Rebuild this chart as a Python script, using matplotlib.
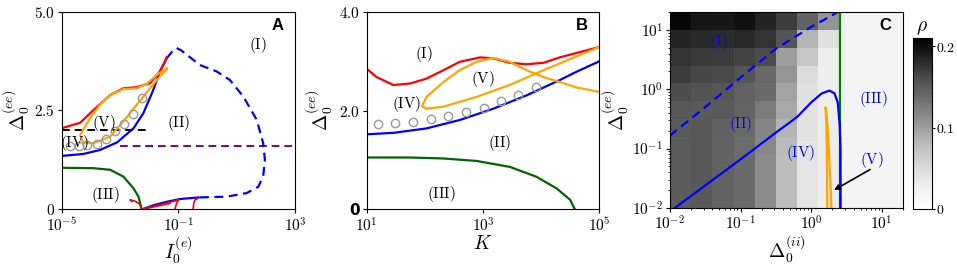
import numpy as np
import matplotlib
matplotlib.use("Agg")
import matplotlib.pyplot as plt

plt.rcParams["mathtext.fontset"] = "cm"
plt.rcParams["font.family"] = ["DejaVu Sans"]

# ---- panel A : Delta_0^(ee) vs I_0^(e) ----
a_blue_up_x = [1e-5, 5.5e-5, 2.04e-4, 7.8e-4, 2.9e-3, 6.3e-3, 0.0138, 0.0234, 0.0398]
a_blue_up_y = [1.35, 1.40, 1.50, 1.69, 2.05, 2.43, 3.02, 3.49, 3.82]
a_blue_dash_x = [0.0398, 0.063, 0.087, 0.126, 0.195, 0.55, 2.04, 5.9, 17, 49, 81, 93, 81, 55, 21.9, 4.57, 0.5]
a_blue_dash_y = [3.82, 4.0, 4.08, 4.02, 3.91, 3.65, 3.49, 3.27, 2.85, 2.26, 1.67, 1.25, 0.83, 0.57, 0.41, 0.32, 0.30]
a_blue_low_x = [0.5, 0.115, 0.04, 0.0138, 0.0058]
a_blue_low_y = [0.30, 0.26, 0.19, 0.10, 0.0]
a_red_x = [1e-5, 4.3e-5, 1.23e-4, 4.6e-4, 1.29e-3, 3.7e-3, 0.0107, 0.0234, 0.0347, 0.0398]
a_red_y = [2.05, 2.19, 2.51, 2.89, 3.06, 3.09, 3.19, 3.49, 3.74, 3.85]
a_orange_x = [0.0398, 0.0182, 8.1e-3, 3.7e-3, 1.29e-3, 4.6e-4, 2.04e-4, 9.3e-5, 4.3e-5,
              5.5e-5, 1.23e-4, 4.6e-4, 1.7e-3, 6.3e-3, 0.0182, 0.0398]
a_orange_y = [3.57, 3.40, 3.17, 3.06, 3.04, 2.89, 2.64, 2.30, 1.88,
              1.69, 1.67, 1.84, 2.33, 2.85, 3.27, 3.54]
a_green_x = [1e-5, 1.23e-4, 4.6e-4, 1.29e-3, 2.9e-3, 4.3e-3, 5.5e-3]
a_green_y = [1.05, 1.04, 1.0, 0.83, 0.53, 0.32, 0.0]
a_red_bits = [
    ([2.5e-3, 2.2e-3, 3.2e-3, 4.6e-3, 5.8e-3], [0.20, 0.24, 0.21, 0.14, 0.0]),
    ([5.8e-3, 0.051], [0.0, 0.15]),
    ([5.8e-3, 0.10], [0.0, 0.235]),
    ([0.076, 0.087, 0.10], [0.0, 0.15, 0.235]),
    ([0.32, 0.34, 0.37, 0.45], [0.0, 0.17, 0.235, 0.27]),
]
a_circ_x = [1.95e-5, 3.9e-5, 7.6e-5, 1.58e-4, 3.3e-4, 6.8e-4, 1.38e-3, 2.7e-3, 5.5e-3]
a_circ_y = [1.59, 1.59, 1.62, 1.65, 1.77, 1.97, 2.16, 2.41, 2.81]
a_black_x = [1e-5, 0.0107]
a_black_y = [2.0, 2.0]
a_purple_x = [1e-3, 1e3]
a_purple_y = [1.59, 1.59]
a_labels = [("(I)", 55, 4.16), ("(II)", 0.1, 2.18), ("(III)", 3.1e-4, 0.36),
            ("(IV)", 2.9e-5, 1.67), ("(V)", 2.8e-4, 2.18)]

# ---- panel B : Delta_0^(ee) vs K ----
b_red_x = [10, 14.8, 28.8, 56, 107, 209, 398, 891, 1510, 2880, 5620, 11000, 20900, 40700, 1e5]
b_red_y = [2.85, 2.68, 2.52, 2.55, 2.65, 2.82, 2.99, 3.08, 3.06, 2.97, 2.94, 2.97, 3.08, 3.17, 3.29]
b_blue_x = [10, 28.8, 107, 398, 1510, 5620, 20900, 40700, 1e5]
b_blue_y = [1.52, 1.55, 1.64, 1.81, 2.04, 2.31, 2.62, 2.79, 3.0]
b_green_x = [10, 56, 209, 776, 2880, 8300, 18600, 31600, 38000]
b_green_y = [1.05, 1.05, 1.03, 0.98, 0.86, 0.66, 0.42, 0.19, 0.0]
b_orange_x = [1e5, 40700, 20900, 11000, 5620, 2880, 1510, 776, 398, 209, 107, 89,
              107, 209, 776, 2880, 11000, 40700, 1e5]
b_orange_y = [2.38, 2.47, 2.58, 2.68, 2.82, 2.99, 3.07, 2.99, 2.82, 2.58, 2.28, 2.09,
              2.04, 2.08, 2.28, 2.52, 2.82, 3.10, 3.29]
b_circ_x = [15.5, 31, 62, 126, 251, 501, 1020, 2000, 4070, 8130]
b_circ_y = [1.72, 1.74, 1.77, 1.83, 1.90, 1.98, 2.06, 2.19, 2.31, 2.47]
b_labels = [("(I)", 98, 3.14), ("(V)", 980, 2.64), ("(IV)", 49, 2.13),
            ("(II)", 1950, 1.34), ("(III)", 195, 0.32)]

# ---- panel C : heatmap of rho over (Delta_0^(ii), Delta_0^(ee)) ----
c_edges = [0.01, 0.02, 0.0398, 0.0794, 0.158, 0.316, 0.631, 1.26, 2.51, 5.01, 10.0, 20.0]
c_rho = np.array([
    [0.150, 0.152, 0.145, 0.138, 0.113, 0.078, 0.040, 0.030, 0.020, 0.020, 0.020],
    [0.150, 0.152, 0.145, 0.138, 0.113, 0.078, 0.040, 0.030, 0.020, 0.020, 0.020],
    [0.150, 0.152, 0.145, 0.138, 0.113, 0.078, 0.040, 0.030, 0.020, 0.020, 0.020],
    [0.150, 0.152, 0.145, 0.136, 0.115, 0.080, 0.040, 0.030, 0.020, 0.020, 0.020],
    [0.151, 0.152, 0.146, 0.138, 0.118, 0.085, 0.042, 0.030, 0.020, 0.020, 0.020],
    [0.152, 0.151, 0.151, 0.143, 0.125, 0.093, 0.044, 0.028, 0.020, 0.020, 0.020],
    [0.160, 0.156, 0.154, 0.145, 0.138, 0.097, 0.045, 0.028, 0.020, 0.020, 0.020],
    [0.170, 0.164, 0.162, 0.155, 0.140, 0.105, 0.050, 0.030, 0.020, 0.020, 0.020],
    [0.175, 0.172, 0.170, 0.166, 0.160, 0.100, 0.070, 0.030, 0.020, 0.020, 0.020],
    [0.184, 0.182, 0.180, 0.181, 0.175, 0.155, 0.085, 0.045, 0.020, 0.020, 0.020],
    [0.205, 0.195, 0.193, 0.197, 0.185, 0.170, 0.145, 0.105, 0.020, 0.020, 0.020],
])
c_dash_x = [0.01, 0.0316, 0.1, 0.316, 1.0, 2.4]
c_dash_y = [0.166, 0.50, 1.58, 4.8, 11.2, 20]
c_blue_x = [0.0117, 0.0316, 0.1, 0.316, 0.63, 1.0, 1.41, 1.82, 2.14, 2.38, 2.54, 2.6, 2.61]
c_blue_y = [0.01, 0.024, 0.066, 0.186, 0.34, 0.60, 0.85, 0.95, 0.85, 0.60, 0.25, 0.1, 0.01]
c_green_x = [2.57, 2.57]
c_green_y = [0.01, 20]
c_orange_x = [1.69, 1.68, 1.67, 1.64, 1.60, 1.62, 1.70, 1.78, 1.86, 1.93]
c_orange_y = [0.01, 0.032, 0.1, 0.25, 0.5, 0.45, 0.25, 0.1, 0.032, 0.01]
c_labels = [("(I)", 0.049, 6.3), ("(II)", 0.1, 0.26), ("(IV)", 0.72, 0.083),
            ("(III)", 7.6, 0.68), ("(V)", 7.2, 0.065)]

W, H = 957, 266
fig = plt.figure(figsize=(W / 100, H / 100), dpi=100)


def px_axes(left, top, right, bottom):
    return fig.add_axes([left / W, 1 - bottom / H, (right - left) / W, (bottom - top) / H])


def region_label(ax, txt, x, y, color="black"):
    ax.text(x, y, r"$\mathrm{%s}$" % txt, ha="center", va="center", fontsize=11, color=color)


def panel_letter(ax, letter):
    ax.text(0.95, 0.93, letter, transform=ax.transAxes, ha="right", va="center",
            fontsize=12, fontweight="bold", family=["Liberation Sans", "DejaVu Sans"])


lw = 1.6
dash = (0, (4, 2.5))

# Panel A
axA = px_axes(61.7, 11.7, 295, 209.3)
axA.set_xscale("log")
axA.plot(a_purple_x, a_purple_y, color="purple", ls=dash, lw=1.4)
axA.plot(a_black_x, a_black_y, color="black", ls=dash, lw=1.4)
axA.plot(a_green_x, a_green_y, color="darkgreen", lw=lw)
axA.plot(a_blue_up_x, a_blue_up_y, color="blue", lw=lw)
axA.plot(a_blue_dash_x, a_blue_dash_y, color="blue", lw=lw, ls=dash)
axA.plot(a_blue_low_x, a_blue_low_y, color="blue", lw=lw)
for bx, by in a_red_bits:
    axA.plot(bx, by, color="red", lw=1.2)
axA.plot(a_red_x, a_red_y, color="red", lw=lw)
axA.plot(a_orange_x, a_orange_y, color="orange", lw=lw)
axA.plot(a_circ_x, a_circ_y, ls="none", marker="o", ms=6, mfc="none", mec="#999999", mew=1)
for t, x, y in a_labels:
    region_label(axA, t, x, y)
axA.set_xlim(1e-5, 1e3)
axA.set_ylim(0, 5)
axA.set_xticks([1e-5, 1e-1, 1e3])
axA.set_xticklabels([r"$10^{-5}$", r"$10^{-1}$", r"$10^{3}$"])
axA.xaxis.set_minor_locator(matplotlib.ticker.NullLocator())
axA.set_yticks([0, 2.5, 5.0])
axA.set_yticklabels([r"$0$", r"$2.5$", r"$5.0$"])
axA.set_xlabel(r"$I_0^{(e)}$", fontsize=14, labelpad=0)
axA.set_ylabel(r"$\Delta_0^{(ee)}$", fontsize=14, labelpad=1)
panel_letter(axA, "A")

# Panel B
axB = px_axes(366.7, 12, 599.3, 209.3)
axB.set_xscale("log")
axB.plot(b_green_x, b_green_y, color="darkgreen", lw=lw)
axB.plot(b_blue_x, b_blue_y, color="blue", lw=lw)
axB.plot(b_red_x, b_red_y, color="red", lw=lw)
axB.plot(b_orange_x, b_orange_y, color="orange", lw=lw)
axB.plot(b_circ_x, b_circ_y, ls="none", marker="o", ms=6, mfc="none", mec="#999999", mew=1)
for t, x, y in b_labels:
    region_label(axB, t, x, y)
axB.set_xlim(10, 1e5)
axB.set_ylim(0, 4)
axB.set_xticks([1e1, 1e3, 1e5])
axB.set_xticklabels([r"$10^{1}$", r"$10^{3}$", r"$10^{5}$"])
axB.xaxis.set_minor_locator(matplotlib.ticker.NullLocator())
axB.set_yticks([0, 2.0, 4.0])
axB.set_yticklabels(["0", r"$2.0$", r"$4.0$"])
axB.get_yticklabels()[0].set_fontweight("bold")
axB.set_xlabel(r"$K$", fontsize=14, labelpad=0)
axB.set_ylabel(r"$\Delta_0^{(ee)}$", fontsize=14, labelpad=3)
panel_letter(axB, "B")

# Panel C
axC = px_axes(670, 12, 903, 208)
mesh = axC.pcolormesh(c_edges, c_edges, c_rho, cmap="Greys", vmin=0, vmax=0.21)
axC.set_xscale("log")
axC.set_yscale("log")
axC.plot(c_dash_x, c_dash_y, color="blue", lw=lw, ls=dash)
axC.plot(c_green_x, c_green_y, color="green", lw=lw)
axC.plot(c_blue_x, c_blue_y, color="blue", lw=lw)
axC.plot(c_orange_x, c_orange_y, color="orange", lw=lw)
axC.annotate("", xy=(1.95, 0.019), xytext=(7.4, 0.047),
             arrowprops=dict(arrowstyle="-|>", color="black", lw=1.2, mutation_scale=8))
for t, x, y in c_labels:
    region_label(axC, t, x, y, color="blue")
axC.set_xlim(0.01, 20)
axC.set_ylim(0.01, 20)
axC.set_xticks([1e-2, 1e-1, 1e0, 1e1])
axC.set_xticklabels([r"$10^{-2}$", r"$10^{-1}$", r"$10^{0}$", r"$10^{1}$"])
axC.set_yticks([1e-2, 1e-1, 1e0, 1e1])
axC.set_yticklabels([r"$10^{-2}$", r"$10^{-1}$", r"$10^{0}$", r"$10^{1}$"])
axC.set_xlabel(r"$\Delta_0^{(ii)}$", fontsize=14, labelpad=0)
axC.set_ylabel(r"$\Delta_0^{(ee)}$", fontsize=14, labelpad=1)
panel_letter(axC, "C")

for ax in (axA, axB, axC):
    ax.tick_params(labelsize=11, length=3, pad=2)
    ax.tick_params(which="minor", length=1.5)

cax = px_axes(913, 38, 931.7, 209)
cb = fig.colorbar(mesh, cax=cax)
cb.set_ticks([0, 0.1, 0.2])
cb.set_ticklabels([r"$0$", r"$0.1$", r"$0.2$"])
cb.ax.tick_params(labelsize=10, length=2, pad=1)
cb.outline.set_linewidth(0.8)
cax.set_title(r"$\rho$", fontsize=14, pad=5)

fig.savefig("out.png", dpi=100)
